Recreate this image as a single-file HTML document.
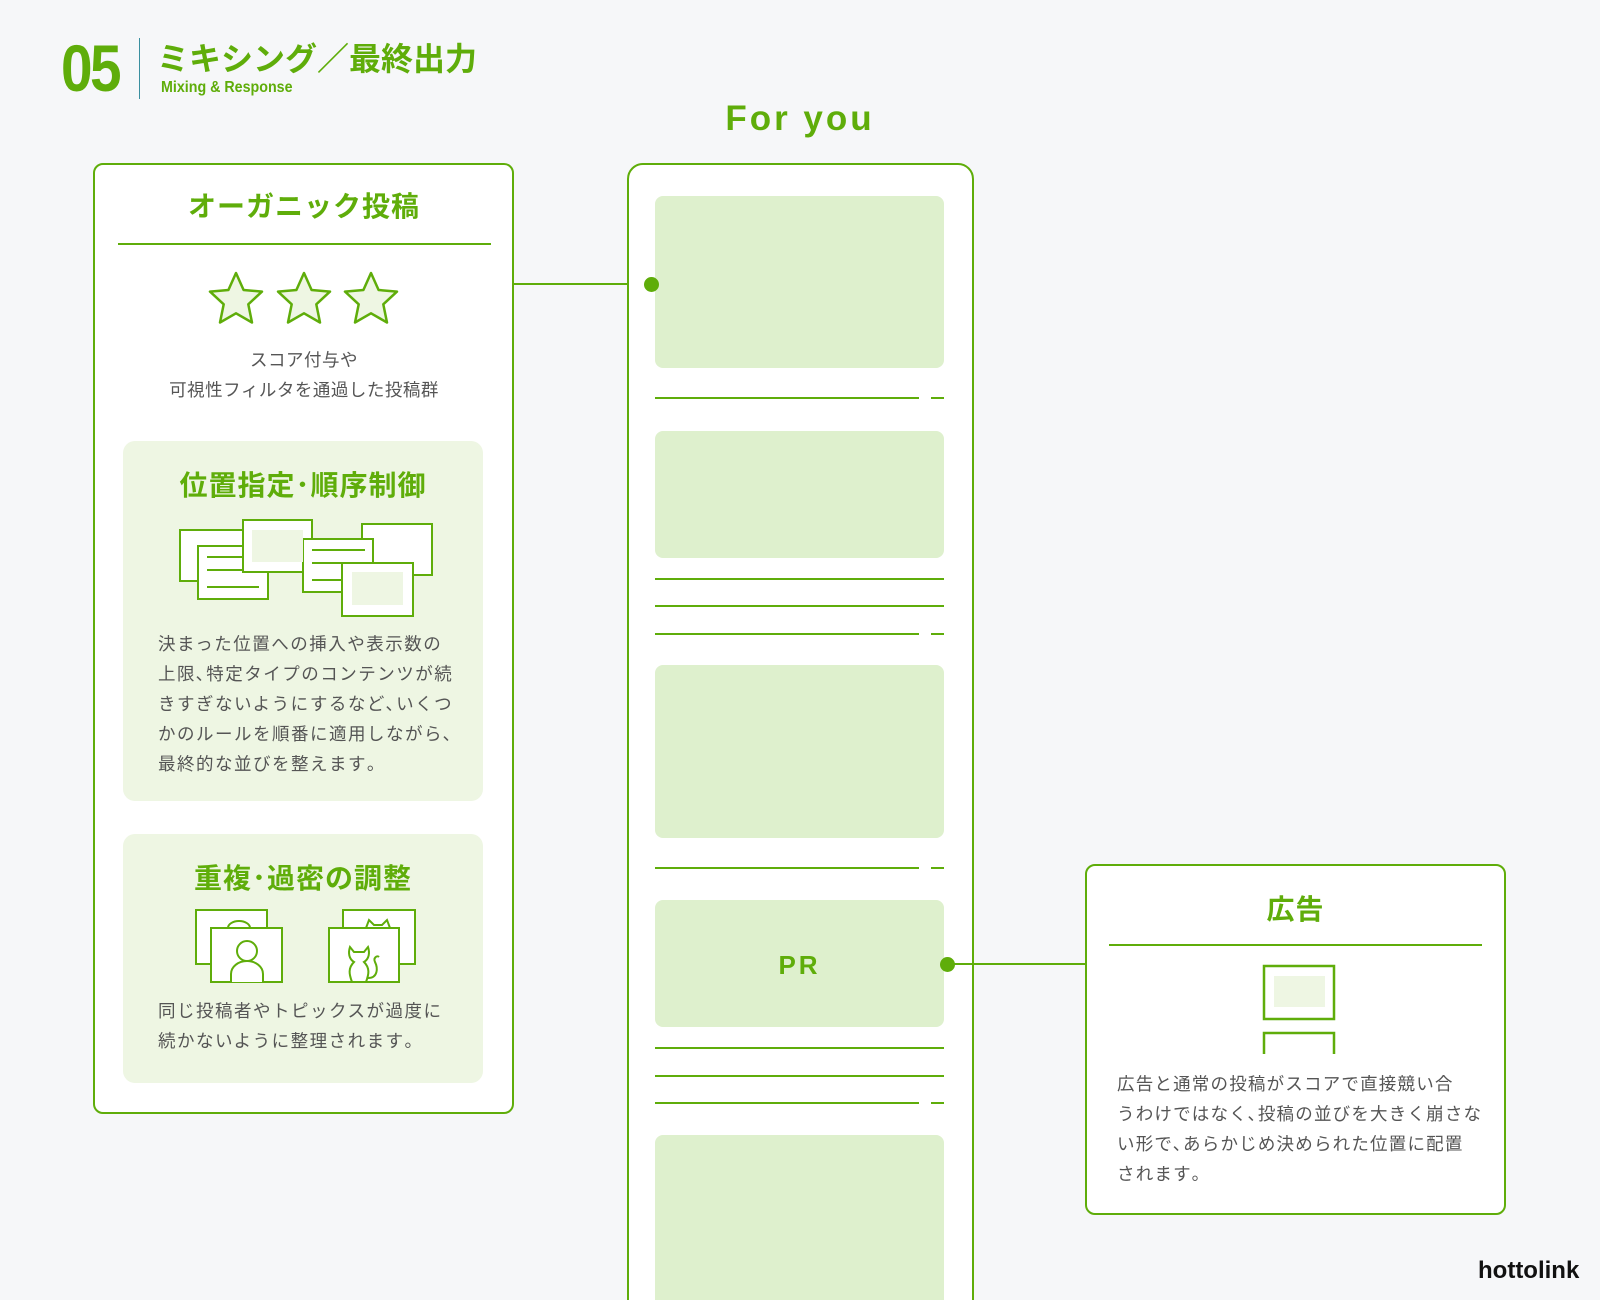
<!DOCTYPE html>
<html><head><meta charset="utf-8">
<style>
*{margin:0;padding:0;box-sizing:border-box}
html,body{width:1600px;height:1300px;overflow:hidden}
body{background:#f6f7f9;font-family:"Liberation Sans","Noto Sans CJK JP",sans-serif;color:#555}
#w{position:relative;width:1600px;height:1300px;overflow:hidden}
.a{position:absolute}
.g{color:#5fad0a}
.box{position:absolute;background:#fff;border:2px solid #5fad0a;border-radius:10px}
.sub{position:absolute;background:#eef6e3;border-radius:12px}
.c{text-align:center}
.t{font-size:17.5px;line-height:30px;color:#555;letter-spacing:0.5px;white-space:nowrap}
.h{font-size:28px;font-weight:bold;color:#5fad0a;letter-spacing:1px}
.card{position:absolute;left:655px;width:289px;background:#def0cd;border-radius:8px}
.ln{position:absolute;height:2px;background:#5fad0a}
</style></head><body><div id="w">

<div class="a g" style="left:61px;top:30px;font-size:66px;font-weight:bold;letter-spacing:-3px;line-height:76px;transform:scaleX(0.86);transform-origin:left top">05</div>
<div class="a" style="left:139px;top:38px;width:1px;height:61px;background:#3a8fa0"></div>
<div class="a g" style="left:157px;top:38px;font-size:32px;font-weight:bold;line-height:42px;white-space:nowrap">ミキシング／最終出力</div>
<div class="a g" style="left:161px;top:78px;font-size:15.5px;font-weight:bold;line-height:20px;transform:scaleX(0.92);transform-origin:left top">Mixing &amp; Response</div>

<div class="a g c" style="left:650px;top:97px;width:300px;font-size:35px;font-weight:bold;letter-spacing:3px;line-height:44px">For you</div>

<div class="box" style="left:93px;top:163px;width:421px;height:951px"></div>
<div class="a c h" style="left:94px;top:187px;width:420px;line-height:40px">オーガニック投稿</div>
<div class="ln" style="left:118px;top:243px;width:373px"></div>
<svg class="a" style="left:200px;top:268px" width="210" height="62" viewBox="0 0 210 62">
<defs><path id="st" d="M0,-27 L7.6,-10 L26,-8.4 L12.3,4.3 L16,22.5 L0,13.3 L-16,22.5 L-12.3,4.3 L-26,-8.4 L-7.6,-10 Z"/></defs>
<g fill="#eef6e3" stroke="#5fad0a" stroke-width="2.5" stroke-linejoin="round">
<use href="#st" x="36" y="32"/><use href="#st" x="104" y="32"/><use href="#st" x="171" y="32"/></g></svg>
<div class="a c t" style="left:94px;top:345px;width:420px">スコア付与や<br>可視性フィルタを通過した投稿群</div>

<div class="sub" style="left:123px;top:441px;width:360px;height:360px"></div>
<div class="a c h" style="left:123px;top:466px;width:360px;line-height:40px">位置指定･順序制御</div>
<svg class="a" style="left:0;top:0" width="520" height="1000">
<g stroke="#5fad0a" stroke-width="2" fill="#fff">
<rect x="180" y="530" width="63" height="51"/>
<rect x="198" y="546" width="70" height="53"/>
<line x1="207" y1="557" x2="259" y2="557"/><line x1="207" y1="570" x2="259" y2="570"/><line x1="207" y1="587" x2="259" y2="587"/>
<rect x="243" y="520" width="69" height="52"/>
<rect x="362" y="524" width="70" height="51"/>
<rect x="303" y="539" width="70" height="53"/>
<line x1="312" y1="550" x2="365" y2="550"/><line x1="312" y1="563" x2="365" y2="563"/><line x1="312" y1="580" x2="365" y2="580"/>
<rect x="342" y="563" width="71" height="53"/>
</g>
<rect x="252" y="530" width="51" height="32" fill="#eef6e3"/>
<rect x="352" y="572" width="51" height="33" fill="#eef6e3"/>
</svg>
<div class="a t" style="left:158px;top:629px;letter-spacing:1.5px">決まった位置への挿入や表示数の<br>上限､特定タイプのコンテンツが続<br>きすぎないようにするなど､いくつ<br>かのルールを順番に適用しながら､<br>最終的な並びを整えます｡</div>

<div class="sub" style="left:123px;top:834px;width:360px;height:249px"></div>
<div class="a c h" style="left:123px;top:859px;width:360px;line-height:40px">重複･過密の調整</div>
<svg class="a" style="left:0;top:0" width="520" height="1000">
<g stroke="#5fad0a" stroke-width="2" fill="#fff">
<rect x="196" y="910" width="71" height="54"/>
<path d="M228,928 a11,7 0 0 1 22,0" fill="none"/>
<rect x="211" y="928" width="71" height="54"/>
<circle cx="247" cy="951" r="10"/>
<path d="M231,982 v-8 a16,13 0 0 1 32,0 v8" />
<rect x="343" y="910" width="72" height="54"/>
<path d="M366,928 l3,-8 l5,5 h8 l5,-5 l3,8" fill="none"/>
<rect x="329" y="928" width="70" height="54"/>
<path d="M352,982 c-3,-8 -4,-14 2,-20 c-5,-3 -6,-9 -4,-15 l4,5 h10 l4,-5 c2,6 1,12 -4,15 c6,6 5,12 2,20 M368,978 c10,0 10,-10 7,-16 c-2,-4 2,-7 4,-5" fill="none"/>
</g></svg>
<div class="a t" style="left:158px;top:996px;letter-spacing:1.5px">同じ投稿者やトピックスが過度に<br>続かないように整理されます｡</div>

<div class="ln" style="left:513px;top:283px;width:138px"></div>

<div class="a" style="left:627px;top:163px;width:347px;height:1180px;background:#fff;border:2px solid #5fad0a;border-radius:16px"></div>
<div class="card" style="top:196px;height:172px"></div>
<div class="a" style="left:644px;top:277px;width:15px;height:15px;border-radius:50%;background:#5fad0a"></div>
<div class="ln" style="left:655px;top:397px;width:264px"></div><div class="ln" style="left:931px;top:397px;width:13px"></div>
<div class="card" style="top:431px;height:127px"></div>
<div class="ln" style="left:655px;top:578px;width:289px"></div>
<div class="ln" style="left:655px;top:605px;width:289px"></div>
<div class="ln" style="left:655px;top:633px;width:264px"></div><div class="ln" style="left:931px;top:633px;width:13px"></div>
<div class="card" style="top:665px;height:173px"></div>
<div class="ln" style="left:655px;top:867px;width:264px"></div><div class="ln" style="left:931px;top:867px;width:13px"></div>
<div class="card" style="top:900px;height:127px"></div>
<div class="a g c" style="left:655px;top:948px;width:289px;font-size:26px;font-weight:bold;letter-spacing:3px;line-height:34px">PR</div>
<div class="ln" style="left:655px;top:1047px;width:289px"></div>
<div class="ln" style="left:655px;top:1075px;width:289px"></div>
<div class="ln" style="left:655px;top:1102px;width:264px"></div><div class="ln" style="left:931px;top:1102px;width:13px"></div>
<div class="card" style="top:1135px;height:200px"></div>

<div class="ln" style="left:947px;top:963px;width:139px"></div>
<div class="a" style="left:940px;top:957px;width:15px;height:15px;border-radius:50%;background:#5fad0a"></div>

<div class="box" style="left:1085px;top:864px;width:421px;height:351px"></div>
<div class="a c h" style="left:1085px;top:890px;width:421px;line-height:40px">広告</div>
<div class="ln" style="left:1109px;top:944px;width:373px"></div>
<svg class="a" style="left:1260px;top:962px" width="80" height="95">
<rect x="4" y="4" width="70" height="53" fill="#fff" stroke="#5fad0a" stroke-width="2.5"/>
<rect x="14" y="14" width="51" height="31" fill="#eef6e3"/>
<path d="M4,92 V71 H74 V92" fill="none" stroke="#5fad0a" stroke-width="2.5"/>
</svg>
<div class="a t" style="left:1117px;top:1069px;letter-spacing:1.2px">広告と通常の投稿がスコアで直接競い合<br>うわけではなく､投稿の並びを大きく崩さな<br>い形で､あらかじめ決められた位置に配置<br>されます｡</div>

<div class="a" style="left:1478px;top:1256px;font-size:24px;font-weight:bold;color:#111;line-height:30px">hottolink</div>
</div></body></html>
